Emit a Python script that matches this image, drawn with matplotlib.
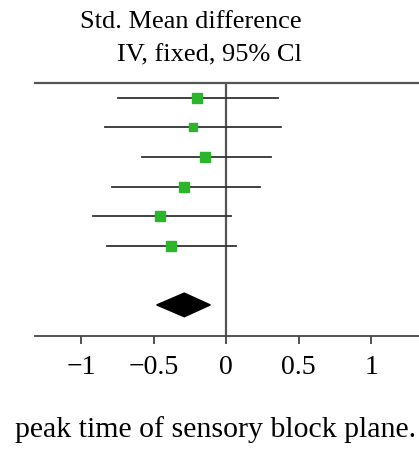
import numpy as np
import matplotlib
matplotlib.use('Agg')
import matplotlib.pyplot as plt
from matplotlib.patches import Polygon

plt.rcParams['font.family'] = ['Liberation Serif', 'DejaVu Serif']

# study estimates (std. mean difference) with 95% CI
smd = [-0.20, -0.23, -0.15, -0.29, -0.46, -0.38]
ci_lo = [-0.75, -0.84, -0.58, -0.79, -0.92, -0.82]
ci_hi = [0.36, 0.38, 0.31, 0.23, 0.03, 0.07]
sizes = [6.8, 6.2, 7.2, 6.8, 7.2, 6.8]
# pooled estimate
pooled = -0.29
pooled_lo = -0.48
pooled_hi = -0.11
xticks = [-1, -0.5, 0, 0.5, 1]
xticklabels = ['\u22121', '\u22120.5', '0', '0.5', '1']

fig = plt.figure(figsize=(4.19, 4.5), dpi=100)
ax = fig.add_axes([35/419, 1-336/450, 1-35/419, (336-83)/450])

rows = np.arange(len(smd))
for i in rows:
    ax.plot([ci_lo[i], ci_hi[i]], [i, i], color='#333333', lw=1.3, zorder=2)
    ax.plot(smd[i], i, marker='s', ms=sizes[i], color='#2bb52b', mec='#2bb52b', zorder=3)

yd = 7
h = 0.4
dia = Polygon([[pooled_lo, yd], [pooled, yd - h], [pooled_hi, yd], [pooled, yd + h]],
              closed=True, color='black', zorder=3)
ax.add_patch(dia)

ax.axvline(0, color='#555555', lw=1.6, zorder=1)

ax.set_xlim(-1.32, 1.33)
ax.set_ylim(8.05, -0.5)
ax.set_yticks([])
ax.set_xticks(xticks)
ax.set_xticklabels(xticklabels, fontsize=20)
ax.tick_params(axis='x', direction='out', length=6, width=1.3, color='#444444', pad=8)
for s in ['left', 'right']:
    ax.spines[s].set_visible(False)
ax.spines['top'].set_color('#555555')
ax.spines['top'].set_linewidth(1.6)
ax.spines['bottom'].set_color('#444444')
ax.spines['bottom'].set_linewidth(1.3)

fig.text(302/419, 1-22/450, 'Std. Mean difference', ha='right', va='center', fontsize=19)
fig.text(302/419, 1-55/450, 'IV, fixed, 95% Cl', ha='right', va='center', fontsize=19)
fig.text(15/419, 1-430/450, 'peak time of sensory block plane.', ha='left', va='center', fontsize=21.5)

fig.savefig('out.png', dpi=100)
